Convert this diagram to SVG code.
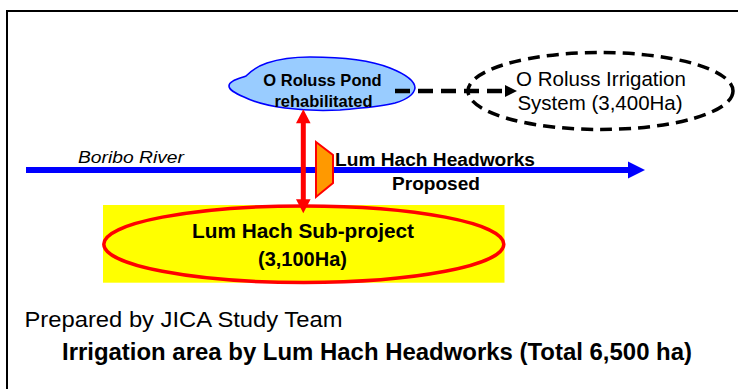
<svg xmlns="http://www.w3.org/2000/svg" width="738" height="389" viewBox="0 0 738 389">
  <defs>
    <style>
      .txt { font-family: "Liberation Sans", Arial, sans-serif; fill: #000; }
      .b { font-weight: bold; }
      .mid { text-anchor: middle; }
    </style>
  </defs>

  <rect x="0" y="0" width="738" height="389" fill="#fff"/>
  <!-- open frame running off the right and bottom edges -->
  <path d="M7,400 L7,11 L750,11" fill="none" stroke="#000" stroke-width="2"/>

  <!-- Boribo River -->
  <g id="river">
    <line x1="26" y1="170" x2="630" y2="170" stroke="#0000FF" stroke-width="6"/>
    <polygon points="628,161.5 645,170 628,178.5" fill="#0000FF"/>
    <text class="txt" x="78" y="163.3" font-size="16" font-style="italic" textLength="106" lengthAdjust="spacingAndGlyphs">Boribo River</text>
  </g>

  <!-- O Roluss Pond -->
  <g id="pond">
    <path d="M229,86 C229,81 238,79 246,76 C252,70 258,66 267,63 C282,58 296,57 310,57 C340,57 370,60 390,68 C405,74 415,80 415,88 C414,95 405,100 395,103 C380,107 360,108 340,110 C320,111 300,110 285,108 C268,106 254,102 244,97 C235,93 229,90 229,86 Z" fill="#99CCFF" stroke="#0000FF" stroke-width="1.6"/>
    <text class="txt b mid" x="322.5" y="86" font-size="16.5">O Roluss Pond</text>
    <text class="txt b mid" x="323.5" y="106.5" font-size="16.5">rehabilitated</text>
  </g>

  <!-- O Roluss Irrigation System -->
  <g id="oroluss-system">
    <ellipse cx="600.5" cy="91" rx="132.5" ry="38.5" fill="none" stroke="#000" stroke-width="3.5" stroke-dasharray="12 7"/>
    <text class="txt mid" x="601" y="85.5" font-size="20.5">O Roluss Irrigation</text>
    <text class="txt mid" x="600" y="110" font-size="20.5">System (3,400Ha)</text>
  </g>

  <!-- Lum Hach Headworks -->
  <g id="headworks">
    <polygon points="316,142 333,155 333,183 316,197" fill="#FF9900" stroke="#FF0000" stroke-width="2" stroke-linejoin="miter"/>
    <text class="txt b" x="335" y="165.5" font-size="18" textLength="200" lengthAdjust="spacingAndGlyphs">Lum Hach Headworks</text>
    <text class="txt b mid" x="436" y="190" font-size="18" textLength="88" lengthAdjust="spacingAndGlyphs">Proposed</text>
  </g>

  <!-- Lum Hach Sub-project -->
  <g id="subproject">
    <rect x="103" y="205" width="401.5" height="77.7" fill="#FFFF00"/>
    <ellipse cx="303.8" cy="244.2" rx="200" ry="38.3" fill="#FFFF00" stroke="#FF0000" stroke-width="3.5"/>
    <text class="txt b mid" x="303" y="238.3" font-size="20" textLength="222" lengthAdjust="spacingAndGlyphs">Lum Hach Sub-project</text>
    <text class="txt b mid" x="302.5" y="265.7" font-size="20">(3,100Ha)</text>
  </g>

  <!-- connectors -->
  <g id="connectors">
    <line x1="395" y1="91" x2="506" y2="91" stroke="#000" stroke-width="4.5" stroke-dasharray="15 8"/>
    <polygon points="505,85 517,91 505,97" fill="#000"/>
    <line x1="303.3" y1="122" x2="303.3" y2="200" stroke="#FF0000" stroke-width="5"/>
    <polygon points="296,123.3 303.3,109.3 310.6,123.3" fill="#FF0000"/>
    <polygon points="296,199.3 303.3,213.3 310.6,199.3" fill="#FF0000"/>
  </g>

  <!-- captions -->
  <g id="captions">
    <text class="txt" x="24.5" y="327" font-size="22" textLength="318" lengthAdjust="spacingAndGlyphs">Prepared by JICA Study Team</text>
    <text class="txt b" x="62" y="360" font-size="24" textLength="630" lengthAdjust="spacingAndGlyphs">Irrigation area by Lum Hach Headworks (Total 6,500 ha)</text>
  </g>
</svg>
